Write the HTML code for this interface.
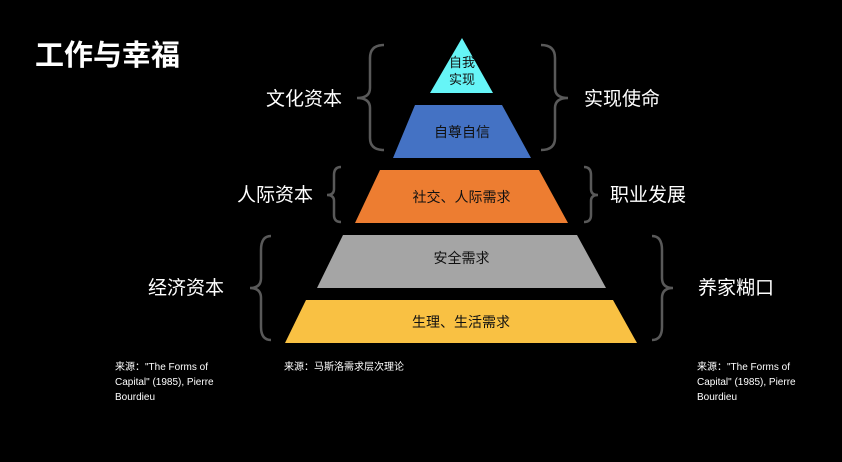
<!DOCTYPE html>
<html><head><meta charset="utf-8"><style>
html,body{margin:0;padding:0;background:#000;}
body{width:842px;height:462px;position:relative;overflow:hidden;font-family:"Liberation Sans","Noto Sans CJK SC",sans-serif;color:#fff;}
.t{position:absolute;white-space:nowrap;}
.lab{font-size:19px;line-height:19px;}
.src{font-size:10px;line-height:15px;color:#fff;}
</style></head><body>
<svg width="842" height="462" style="position:absolute;left:0;top:0">
<polygon points="462,38 430,93 493,93" fill="#66f5f7"/>
<polygon points="415,105 502,105 531,158 393,158" fill="#4472c4"/>
<polygon points="380,170 539,170 568,223 355,223" fill="#ed7d31"/>
<polygon points="343,235 577,235 606,288 317,288" fill="#a5a5a5"/>
<polygon points="306,300 613,300 637,343 285,343" fill="#f9c143"/>
<g fill="none" stroke="#595959" stroke-width="2.5">
<path d="M384,45 Q370,45 370,58 L370,88 Q370,98 357,98 Q370,98 370,108 L370,138 Q370,150 384,150"/>
<path d="M541,45 Q555,45 555,58 L555,88 Q555,98 568,98 Q555,98 555,108 L555,138 Q555,150 541,150"/>
<path d="M341,167 Q334,167 334,175 L334,189 Q334,195 327,195 Q334,195 334,201 L334,215 Q334,222 341,222"/>
<path d="M584,167 Q591,167 591,175 L591,189 Q591,195 598,195 Q591,195 591,201 L591,215 Q591,222 584,222"/>
<path d="M271,236 Q261,236 261,250 L261,278 Q261,288 250,288 Q261,288 261,298 L261,327 Q261,340 271,340"/>
<path d="M652,236 Q662,236 662,250 L662,278 Q662,288 673,288 Q662,288 662,298 L662,327 Q662,340 652,340"/>
</g>
</svg>
<div class="t" style="left:35px;top:40px;font-size:29px;line-height:32px;font-weight:bold;">工作与幸福</div>
<div class="t" style="left:448px;top:54px;width:28px;font-size:13px;line-height:17px;color:#111;text-align:center;white-space:normal;">自我实现</div>
<div class="t" style="left:393px;top:124px;width:138px;text-align:center;font-size:14px;line-height:16px;color:#111;">自尊自信</div>
<div class="t" style="left:355px;top:189px;width:213px;text-align:center;font-size:14px;line-height:16px;color:#111;">社交、人际需求</div>
<div class="t" style="left:317px;top:250px;width:289px;text-align:center;font-size:14px;line-height:16px;color:#111;">安全需求</div>
<div class="t" style="left:285px;top:314px;width:352px;text-align:center;font-size:14px;line-height:16px;color:#111;">生理、生活需求</div>
<div class="t lab" style="left:266px;top:90px;">文化资本</div>
<div class="t lab" style="left:584px;top:90px;">实现使命</div>
<div class="t lab" style="left:237px;top:186px;">人际资本</div>
<div class="t lab" style="left:610px;top:186px;">职业发展</div>
<div class="t lab" style="left:148px;top:279px;">经济资本</div>
<div class="t lab" style="left:698px;top:279px;">养家糊口</div>
<div class="t src" style="left:115px;top:360px;">来源："The Forms of<br>Capital" (1985), Pierre<br>Bourdieu</div>
<div class="t src" style="left:284px;top:360px;">来源：马斯洛需求层次理论</div>
<div class="t src" style="left:697px;top:360px;">来源："The Forms of<br>Capital" (1985), Pierre<br>Bourdieu</div>
</body></html>
